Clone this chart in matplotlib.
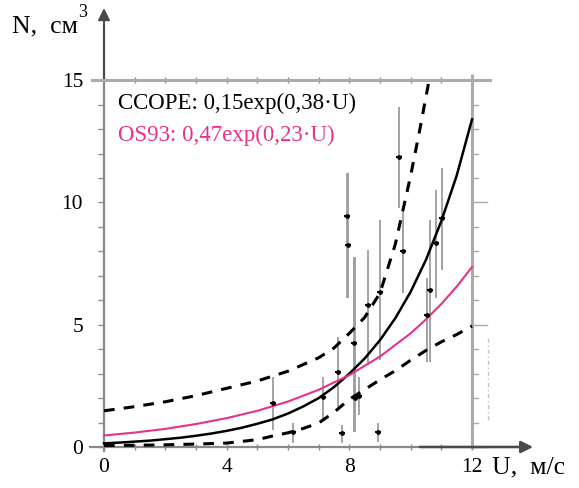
import matplotlib
matplotlib.use("Agg")
import matplotlib.pyplot as plt
import numpy as np

# fitted curves
U_CCOPE = [0, 0.5, 1, 1.5, 2, 2.5, 3, 3.5, 4, 4.5, 5, 5.5, 6, 6.5,
           7, 7.5, 8, 8.5, 9, 9.5, 10, 10.5, 11, 11.5, 12]
N_CCOPE = [0.15, 0.18, 0.22, 0.26, 0.32, 0.38, 0.46, 0.55, 0.66, 0.79,
           0.95, 1.13, 1.37, 1.66, 2.0, 2.45, 3.0, 3.62, 4.37, 5.27,
           6.35, 7.66, 9.24, 11.1, 13.4]

U_OS93 = [0, 1, 2, 3, 4, 5, 6, 7, 8, 9, 10, 10.5, 11, 11.5, 12]
N_OS93 = [0.47, 0.59, 0.74, 0.94, 1.18, 1.48, 1.86, 2.34, 2.94, 3.70,
          4.65, 5.22, 5.85, 6.56, 7.36]

U_UPPER = [0, 1, 2, 3, 4, 5, 6, 7, 7.5, 8, 8.5, 9, 9.5, 10, 10.3, 10.6]
N_UPPER = [1.48, 1.65, 1.85, 2.1, 2.4, 2.7, 3.1, 3.65, 4.05, 4.65, 5.3,
           6.3, 8.3, 11.1, 13.0, 15.0]

U_LOWER = [0, 1, 2, 3, 4, 5, 5.5, 6, 6.5, 7, 7.5, 8, 8.5, 9, 9.5, 10,
           10.5, 11, 11.5, 12]
N_LOWER = [0.06, 0.07, 0.09, 0.12, 0.16, 0.3, 0.45, 0.58, 0.76, 0.98,
           1.42, 1.95, 2.35, 2.75, 3.12, 3.55, 3.95, 4.3, 4.6, 4.95]

# measurements with error bars
U_PTS = [5.52, 6.15, 7.13, 7.64, 7.75, 7.93, 7.95, 8.15, 8.18, 8.33,
         8.62, 9.0, 8.94, 9.63, 9.74, 10.54, 10.62, 10.81, 11.01]
N_PTS = [1.79, 0.63, 2.06, 3.08, 0.56, 9.45, 8.26, 4.24, 1.99, 2.09,
         5.81, 6.35, 0.63, 11.85, 8.03, 5.4, 6.4, 8.33, 9.35]
N_LO = [0.70, 0.16, 1.10, 1.65, 0.16, 6.08, 6.08, 0.60, 0.60, 1.31,
        3.44, 3.56, 0.20, 9.76, 6.3, 3.49, 3.49, 6.1, 7.24]
N_HI = [2.88, 0.98, 2.88, 4.51, 0.90, 11.2, 11.2, 7.75, 7.75, 2.88,
        8.06, 9.28, 0.98, 13.9, 9.69, 6.9, 9.28, 10.5, 11.4]

X_TICKS = [0, 4, 8, 12]
Y_TICKS = [0, 5, 10, 15]

C_GRID = "#ababab"
C_AXIS = "#8a8a8a"
C_DARK = "#4a4a4a"
C_PINK = "#e8328a"
C_BAR = "#9c9c9c"

plt.rcParams["font.family"] = ["Liberation Serif", "DejaVu Serif"]

fig = plt.figure(figsize=(5.79, 4.88), dpi=100)
ax = fig.add_axes([0, 0, 1, 1])
ax.set_xlim(-3.391, 15.488)
ax.set_ylim(-1.677, 18.28)
ax.patch.set_alpha(0)

# frame: axes at 0, box lines at N=15 and U=12
ax.spines["left"].set_position(("data", 0))
ax.spines["bottom"].set_position(("data", 0))
ax.spines["top"].set_position(("data", 15))
ax.spines["right"].set_visible(False)
ax.spines["left"].set_bounds(-0.15, 15)
ax.spines["bottom"].set_bounds(-0.45, 13.5)
ax.spines["top"].set_bounds(-0.4, 12.6)
for s, c, w in [("left", C_AXIS, 1.6), ("bottom", C_AXIS, 1.6), ("top", C_GRID, 2.2)]:
    ax.spines[s].set_color(c)
    ax.spines[s].set_linewidth(w)

ax.xaxis.set_ticks_position("both")
ax.yaxis.set_ticks_position("left")
ax.set_xticks(X_TICKS)
ax.set_xticks(np.arange(0, 13), minor=True)
ax.set_yticks(Y_TICKS)
ax.set_yticks(np.arange(0, 16), minor=True)
ax.tick_params(axis="x", which="both", direction="inout", length=4, width=1,
               color=C_AXIS, labeltop=False, labelsize=15.5, pad=6)
ax.tick_params(axis="y", which="both", direction="out", length=4, width=1,
               color=C_AXIS, labelsize=15.5, pad=11)

# right box line with its own ticks
ax.plot([12, 12], [-0.1, 15.25], color=C_GRID, lw=2.2, solid_capstyle="butt")
for n in range(0, 16):
    ln = 0.5 if n % 5 == 0 else 0.2
    ax.plot([12, 12 + ln], [n, n], color=C_GRID, lw=1)
ax.plot([12.52, 12.52], [1.1, 4.5], color="#c4c4c4", lw=1,
        ls=(0, (3, 2, 1, 2)))

# arrows
ax.plot([0, 0], [15, 17.2], color=C_DARK, lw=1.6)
ax.annotate("", xy=(0, 17.95), xytext=(0, 16.9),
            arrowprops=dict(arrowstyle="-|>", color=C_DARK, lw=1.4,
                            mutation_scale=18, shrinkA=0, shrinkB=0))
ax.annotate("", xy=(13.99, 0), xytext=(10.3, 0),
            arrowprops=dict(arrowstyle="-|>", color=C_DARK, lw=1.8,
                            mutation_scale=18, shrinkA=0, shrinkB=0))

# data
ax.errorbar(U_PTS, N_PTS,
            yerr=[np.subtract(N_PTS, N_LO), np.subtract(N_HI, N_PTS)],
            fmt="none", ecolor=C_BAR, elinewidth=1.3, zorder=2)
ax.plot(U_PTS, N_PTS, ls="none", marker="_", ms=5, mew=1.5, color="black", zorder=4)
ax.plot(U_PTS, N_PTS, ls="none", marker="o", ms=2.4, color="black", zorder=4)

dash = dict(color="black", lw=2.2, dashes=(3.5, 3.0), zorder=3)
ax.plot(U_UPPER, N_UPPER, **dash)
ax.plot(U_LOWER, N_LOWER, **dash)
ax.plot(U_CCOPE, N_CCOPE, color="black", lw=1.8, zorder=3)
ax.plot(U_OS93, N_OS93, color=C_PINK, lw=1.5, zorder=3)

# text
ax.text(0.46, 14.07, "CCOPE: 0,15exp(0,38·U)", fontsize=16.5, color="black",
        va="center", ha="left")
ax.text(0.46, 12.76, "OS93: 0,47exp(0,23·U)", fontsize=16.5, color=C_PINK,
        va="center", ha="left")
ax.text(-3.0, 17.2, "N,  см", fontsize=18.5, va="center", ha="left")
ax.text(-0.85, 17.75, "3", fontsize=13, va="center", ha="left")
ax.text(12.65, -0.85, "U,  м/с", fontsize=18.5, va="center", ha="left")

fig.savefig("out.png", dpi=100)
